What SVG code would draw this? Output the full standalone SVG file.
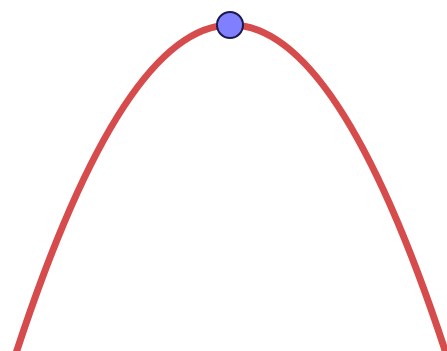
<svg xmlns="http://www.w3.org/2000/svg" width="447" height="351" viewBox="0 0 447 351">
<style>
.curve{fill:none;stroke:#d64c4c;stroke-width:7}
.pt{fill:#7f7fff;stroke:#1a1a4d;stroke-width:2}
</style>
<rect width="447" height="351" fill="#ffffff"/>
<g id="connectors">
<path class="curve" d="M13.8,360 Q231,-310 448.2,360"/>
</g>
<g id="vertex">
<circle class="pt" cx="230" cy="25" r="13"/>
</g>
</svg>
